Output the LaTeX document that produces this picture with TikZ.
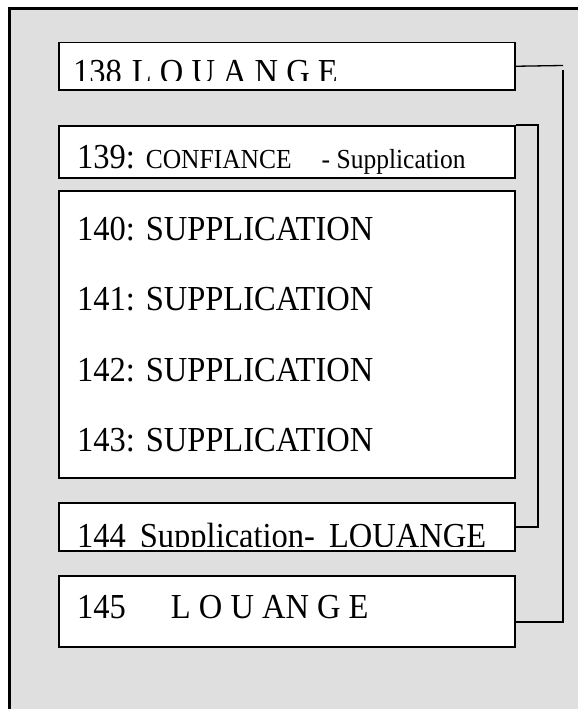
\documentclass[tikz,border=0pt]{standalone}
\usepackage{fontspec}
\setmainfont{Liberation Serif}
\usepackage{graphicx}
\definecolor{panel}{RGB}{223,223,223}
% slightly taller-than-wide lettering
\newcommand\stretchy[1]{\scalebox{1}[1.08]{#1}}
\begin{document}
\begin{tikzpicture}[x=1pt,y=-1pt,
  box/.style={draw=black, fill=white, line width=1.5pt, minimum width=456pt,
              anchor=north west, inner sep=0pt},
  label/.style={anchor=base west, inner sep=0pt, font=\fontsize{32.5}{36}\selectfont},
  link/.style={line width=1.3pt},
  thicklink/.style={line width=2pt}]
\useasboundingbox (0,0) rectangle (578,709);
\fill[white] (0,0) rectangle (578,709);
% grey panel with its left and top border
\fill[panel] (9.5,8.5) rectangle (578,709);
\draw[line width=3pt] (9.5,709) -- (9.5,8.5) -- (578,8.5);

% boxes
\node[box, minimum height=47pt]  (b138) at (58,42)  {};
\node[box, minimum height=52pt]  (b139) at (58,125) {};
\node[box, minimum height=287pt] (b140) at (58,190) {};
\node[box, minimum height=48pt]  (b144) at (58,502) {};
\node[box, minimum height=71pt]  (b145) at (58,575) {};

% texts
\begin{scope}
  \clip (58,42) rectangle (514,80.5);
  \node[label] (t138) at (73,83.5) {\stretchy{138\hspace{10pt}L O U A N G E}};
\end{scope}
\node[label] (t139) at (77,168) {\stretchy{139: {\fontsize{25.5}{30}\selectfont CONFIANCE\hspace{30pt}- Supplication}}};
\node[label] (t140) at (77,240) {\stretchy{140: SUPPLICATION}};
\node[label] (t141) at (77,310) {\stretchy{141: SUPPLICATION}};
\node[label] (t142) at (77,381) {\stretchy{142: SUPPLICATION}};
\node[label] (t143) at (77,451) {\stretchy{143: SUPPLICATION}};
\begin{scope}
  \clip (58,502) rectangle (514,546.5);
  \node[label] (t144) at (77,547) {\stretchy{144\hspace{14pt}Supplication-\hspace{14pt}LOUANGE}};
\end{scope}
\node[label] (t145) at (77,618) {\stretchy{145\hspace{45pt}L O U AN G E}};

% brackets on the right
\coordinate (r1) at (563,65.5);
\coordinate (r2) at (563,70);
\coordinate (r3) at (563,622);
\draw[link] (b138.east) -- (r1);
\draw[link] (r2) -- (r3) -- (b145.east |- r3);

\coordinate (q1) at (538,125);
\draw[thicklink] (b139.north east) -- (q1) |- (b144.east);
\end{tikzpicture}
\end{document}
